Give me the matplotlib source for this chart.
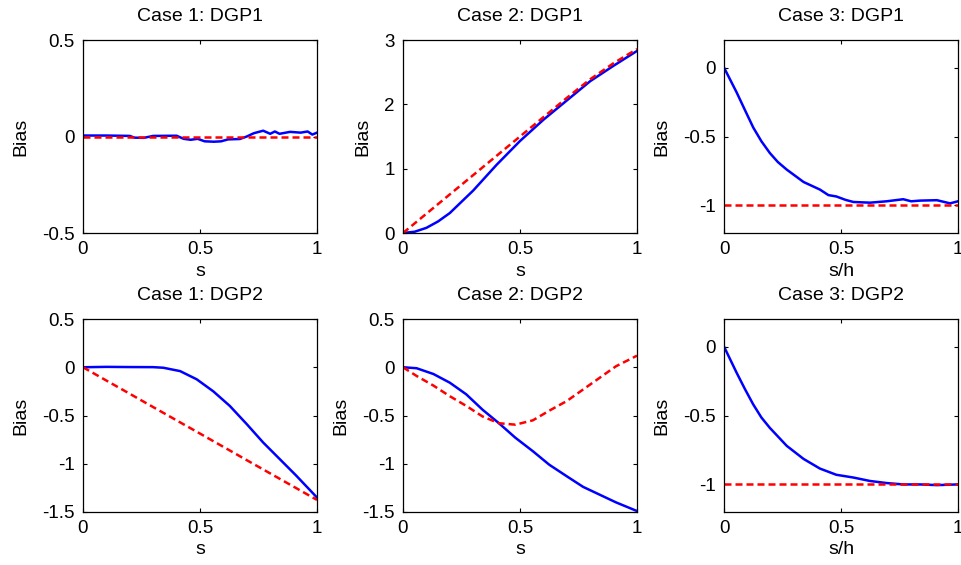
import matplotlib.pyplot as plt

plt.rcParams['font.family'] = ['Liberation Sans', 'DejaVu Sans']

# Case 1: DGP1
c1d1_x = [0, 0.1, 0.2, 0.22, 0.26, 0.3, 0.4, 0.43, 0.46, 0.49, 0.52, 0.56, 0.59, 0.62, 0.67,
          0.7, 0.73, 0.77, 0.8, 0.82, 0.84, 0.885, 0.93, 0.96, 0.98, 1]
c1d1_blue = [0.005, 0.005, 0.003, -0.006, -0.007, 0.003, 0.004, -0.012, -0.017, -0.012, -0.025,
             -0.027, -0.025, -0.015, -0.013, 0.0, 0.017, 0.03, 0.014, 0.026, 0.014, 0.024, 0.02,
             0.026, 0.01, 0.02]
c1d1_red = [0] * len(c1d1_x)

# Case 2: DGP1
c2d1_x = [0, 0.05, 0.1, 0.15, 0.2, 0.3, 0.4, 0.5, 0.6, 0.7, 0.8, 0.9, 1]
c2d1_blue = [0, 0.02, 0.08, 0.18, 0.31, 0.66, 1.06, 1.43, 1.76, 2.06, 2.36, 2.6, 2.83]
c2d1_red = [0, 0.15, 0.3, 0.45, 0.6, 0.9, 1.2, 1.5, 1.8, 2.1, 2.39, 2.64, 2.86]

# Case 3: DGP1
c3d1_x = [0, 0.054, 0.09, 0.125, 0.16, 0.196, 0.23, 0.268, 0.34, 0.41, 0.446, 0.48, 0.52,
          0.553, 0.624, 0.695, 0.766, 0.8, 0.838, 0.91, 0.966, 1]
c3d1_blue = [0, -0.18, -0.31, -0.435, -0.535, -0.62, -0.685, -0.74, -0.83, -0.885, -0.925, -0.935,
             -0.96, -0.975, -0.98, -0.97, -0.955, -0.97, -0.965, -0.962, -0.985, -0.97]
c3d1_red = [-1] * len(c3d1_x)

# Case 1: DGP2
c1d2_x = [0, 0.1, 0.2, 0.3, 0.343, 0.415, 0.486, 0.557, 0.627, 0.7, 0.77, 0.84, 0.91, 1]
c1d2_blue = [0, 0.004, 0.002, 0.001, -0.005, -0.04, -0.125, -0.25, -0.4, -0.59, -0.78, -0.95,
             -1.12, -1.35]
c1d2_red = [0, -0.138, -0.275, -0.413, -0.472, -0.571, -0.668, -0.766, -0.862, -0.963, -1.059,
            -1.155, -1.251, -1.375]

# Case 2: DGP2
c2d2_x = [0, 0.058, 0.13, 0.2, 0.27, 0.34, 0.41, 0.48, 0.555, 0.625, 0.7, 0.77, 0.84, 0.91, 1]
c2d2_blue = [0, -0.01, -0.07, -0.16, -0.28, -0.44, -0.58, -0.73, -0.87, -1.01, -1.13, -1.24,
             -1.32, -1.4, -1.49]
c2d2_red = [0, -0.09, -0.19, -0.3, -0.4, -0.51, -0.58, -0.595, -0.55, -0.45, -0.35, -0.23,
            -0.11, 0.01, 0.12]

# Case 3: DGP2
c3d2_x = [0, 0.054, 0.09, 0.125, 0.16, 0.196, 0.268, 0.34, 0.41, 0.48, 0.553, 0.624, 0.695,
          0.766, 0.838, 0.91, 1]
c3d2_blue = [0, -0.19, -0.31, -0.42, -0.515, -0.59, -0.72, -0.815, -0.885, -0.93, -0.95, -0.975,
             -0.99, -1.0, -1.0, -1.005, -1.0]
c3d2_red = [-1] * len(c3d2_x)

panels = [
    ('Case 1: DGP1', 's', c1d1_x, c1d1_blue, c1d1_red, (-0.5, 0.5), [-0.5, 0, 0.5]),
    ('Case 2: DGP1', 's', c2d1_x, c2d1_blue, c2d1_red, (0, 3), [0, 1, 2, 3]),
    ('Case 3: DGP1', 's/h', c3d1_x, c3d1_blue, c3d1_red, (-1.2, 0.2), [-1, -0.5, 0]),
    ('Case 1: DGP2', 's', c1d2_x, c1d2_blue, c1d2_red, (-1.5, 0.5), [-1.5, -1, -0.5, 0, 0.5]),
    ('Case 2: DGP2', 's', c2d2_x, c2d2_blue, c2d2_red, (-1.5, 0.5), [-1.5, -1, -0.5, 0, 0.5]),
    ('Case 3: DGP2', 's/h', c3d2_x, c3d2_blue, c3d2_red, (-1.2, 0.2), [-1, -0.5, 0]),
]

def fmt(v):
    return '0' if v == 0 else ('%g' % v)

fig = plt.figure(figsize=(9.61, 5.65), dpi=100)
lefts = [83 / 961, 403 / 961, 724 / 961]
bottoms = [1 - 233 / 565, 1 - 512 / 565]
w = 234 / 961
h = 193 / 565

for i, (title, xlab, x, blue, red, ylim, yticks) in enumerate(panels):
    ax = fig.add_axes([lefts[i % 3], bottoms[i // 3], w, h])
    ax.plot(x, blue, color='#0000ff', lw=1.8)
    ax.plot(x, red, color='#ff0000', lw=1.8, linestyle=(0, (2.8, 1.6)))
    ax.set_xlim(0, 1)
    ax.set_ylim(*ylim)
    ax.set_xticks([0, 0.5, 1])
    ax.set_xticklabels(['0', '0.5', '1'])
    ax.set_yticks(yticks)
    ax.set_yticklabels([fmt(v) for v in yticks])
    ax.tick_params(direction='in', length=3, width=0.8, top=True, right=True,
                   labelsize=13.5, pad=6)
    for sp in ax.spines.values():
        sp.set_linewidth(0.9)
    ax.set_title(title, fontsize=14, pad=14)
    ax.set_xlabel(xlab, fontsize=14, labelpad=3)
    ax.set_ylabel('Bias', fontsize=14, labelpad=9)

fig.savefig('out.png', dpi=100)
